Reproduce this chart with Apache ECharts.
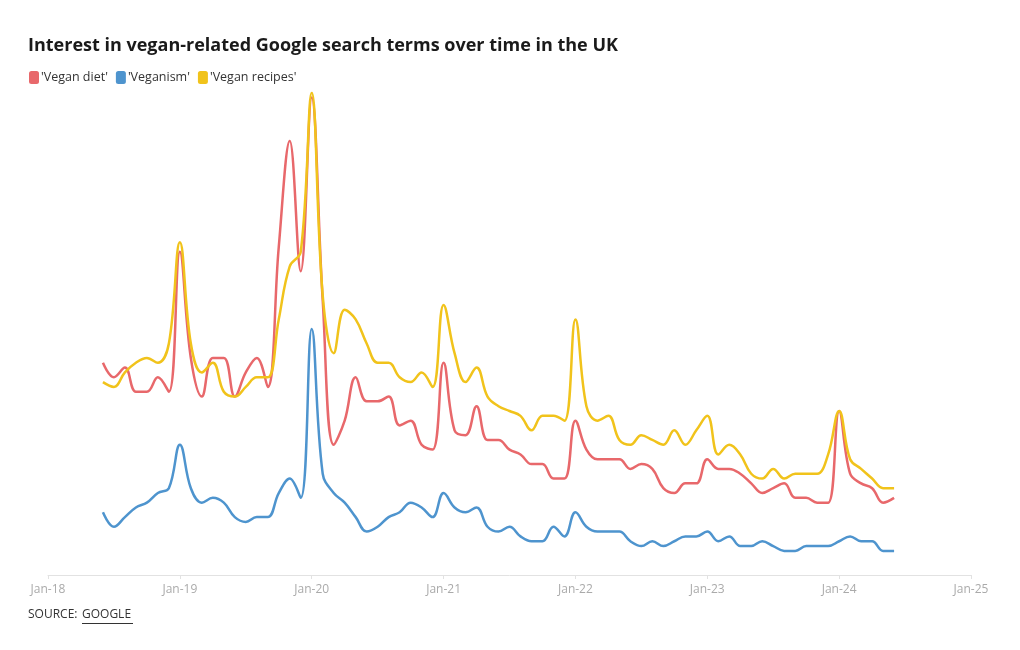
<!DOCTYPE html>
<html>
<head>
<meta charset="utf-8">
<script src="https://cdn.jsdelivr.net/npm/echarts@6/dist/echarts.min.js"></script>
<style>
html,body{margin:0;padding:0;background:#fff;}
#chart{width:1020px;height:650px;}
</style>
</head>
<body>
<div id="chart"></div>
<script>
// Monthly Google Trends index, Jun 2018 .. Jun 2024
const startYear = 2018;
const startMonth = 6; // June
const seriesNames = ["'Vegan diet'", "'Veganism'", "'Vegan recipes'"];
const veganDiet = [44,41,43,38,38,41,38,67,45,37,45,45,37,42,45,39,68,90,63,99,57,27,32,41,36,36,37,31,32,27,26,44,30,29,35,28,28,26,25,23,23,20,20,32,26,24,24,24,22,23,22,18,17,19,19,24,22,22,21,19,17,18,19,16,16,15,15,34,21,19,18,15,16];
const veganism = [13,10,12,14,15,17,18,27,18,15,16,15,12,11,12,12,17,20,16,51,21,17,15,12,9,10,12,13,15,14,12,17,14,13,14,10,9,10,8,7,7,10,8,13,10,9,9,9,7,6,7,6,7,8,8,9,7,8,6,6,7,6,5,5,6,6,6,7,8,7,7,5,5];
const veganRecipes = [40,39,42,44,45,44,48,69,48,42,44,38,37,39,41,41,53,64,67,100,58,46,55,53,48,44,44,41,40,42,39,56,46,40,43,37,35,34,33,30,33,33,32,53,35,32,33,28,27,29,28,27,30,27,30,33,25,27,25,21,20,22,20,21,21,21,25,34,24,22,20,18,18];
const yearTicks = ["Jan-18","Jan-19","Jan-20","Jan-21","Jan-22","Jan-23","Jan-24","Jan-25"];
const colors = ["#e8686b", "#4e94ce", "#f1c31b"];

// x = months since Jan of startYear
function toPoints(arr){
  return arr.map((v,i)=>[(startMonth-1)+i, v]);
}

const chart = echarts.init(document.getElementById('chart'), null, {renderer:'canvas'});
const FONT = "'Open Sans', sans-serif";
const option = {
  backgroundColor:'#fff',
  animation:false,
  color: colors,
  title:{
    text:'Interest in vegan-related Google search terms over time in the UK',
    left:23, top:32,
    textStyle:{fontFamily:FONT, fontSize:18, fontWeight:'bold', color:'#1a1a1a'}
  },
  legend:{
    left:24, top:66,
    icon:'roundRect',
    itemWidth:10, itemHeight:13, itemGap:8,
    textStyle:{fontFamily:FONT, fontSize:12.5, color:'#333', padding:[0,0,0,-3]},
    data: seriesNames
  },
  grid:{left:48, right:49, top:92.7, bottom:75, containLabel:false},
  xAxis:{
    type:'value', min:0, max:84, interval:12,
    axisLine:{show:true, lineStyle:{color:'#e2e2e2', width:1}},
    axisTick:{show:true, length:4, lineStyle:{color:'#e2e2e2'}},
    splitLine:{show:false},
    axisLabel:{
      margin:9, color:'#aaaaaa', fontFamily:FONT, fontSize:12,
      formatter: v => yearTicks[Math.round(v/12)]
    }
  },
  yAxis:{
    type:'value', min:0, max:100, show:false,
    splitLine:{show:false}
  },
  series:[
    {name:seriesNames[0], data:toPoints(veganDiet)},
    {name:seriesNames[1], data:toPoints(veganism)},
    {name:seriesNames[2], data:toPoints(veganRecipes)}
  ].map((s,i)=>Object.assign({
    type:'line', smooth:0.4, showSymbol:false, symbol:'none',
    lineStyle:{width:2.5, color:colors[i]}, itemStyle:{color:colors[i]}
  }, s)),
  graphic:[
    {type:'text', left:28, top:609, style:{text:'SOURCE:', fontFamily:FONT, fontSize:12, fill:'#333'}},
    {type:'text', left:82, top:609, style:{text:'GOOGLE', fontFamily:FONT, fontSize:12, fill:'#333'}},
    {type:'rect', left:82, top:623, shape:{width:51, height:1}, style:{fill:'#333'}}
  ]
};
chart.setOption(option);
</script>
</body>
</html>
